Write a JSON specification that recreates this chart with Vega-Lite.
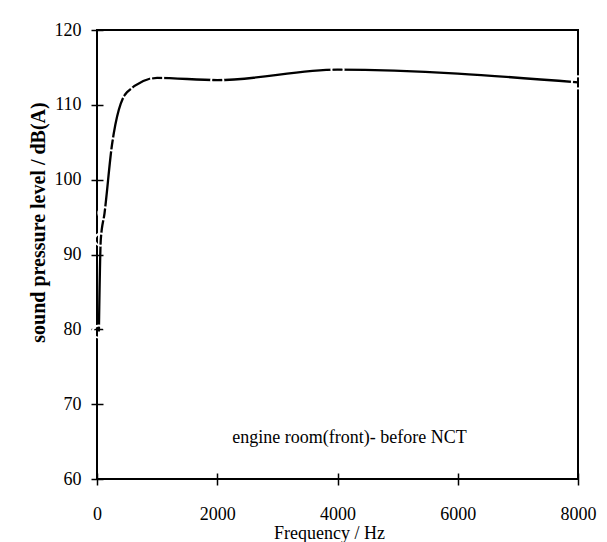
{
  "$schema": "https://vega.github.io/schema/vega-lite/v6.json",
  "width": 481,
  "height": 449,
  "autosize": {"type": "none"},
  "padding": {"left": 97, "top": 30, "right": 29, "bottom": 63},
  "background": "white",
  "config": {
    "font": "Liberation Serif",
    "view": {"stroke": "black", "strokeWidth": 2}
  },
  "data": {
    "values": [
      {"frequency": 31.5, "spl": 79.7},
      {"frequency": 63, "spl": 92.0},
      {"frequency": 125, "spl": 95.5},
      {"frequency": 250, "spl": 104.7},
      {"frequency": 500, "spl": 111.7},
      {"frequency": 1000, "spl": 113.6},
      {"frequency": 2000, "spl": 113.3},
      {"frequency": 4000, "spl": 114.7},
      {"frequency": 8000, "spl": 113.0}
    ]
  },
  "layer": [
    {
      "mark": {"type": "line", "interpolate": "monotone", "color": "black", "strokeWidth": 2.3},
      "encoding": {
        "x": {
          "field": "frequency",
          "type": "quantitative",
          "scale": {"domain": [0, 8000], "nice": false},
          "axis": {
            "values": [0, 2000, 4000, 6000, 8000],
            "domain": false,
            "grid": false,
            "tickSize": 12,
            "offset": -6,
            "tickColor": "black",
            "tickWidth": 1.5,
            "labelFont": "Liberation Serif",
            "labelFontSize": 18,
            "labelColor": "black",
            "labelPadding": 20,
            "labelFlush": false,
            "labelOverlap": false,
            "format": "d",
            "title": "Frequency / Hz",
            "titleFont": "Liberation Serif",
            "titleFontSize": 18,
            "titleFontWeight": "normal",
            "titleColor": "black",
            "titleX": 232,
            "titleY": 60,
            "titleAlign": "center",
            "titleBaseline": "middle"
          }
        },
        "y": {
          "field": "spl",
          "type": "quantitative",
          "scale": {"domain": [60, 120], "nice": false, "zero": false},
          "axis": {
            "values": [60, 70, 80, 90, 100, 110, 120],
            "domain": false,
            "grid": false,
            "tickSize": 12,
            "offset": -6,
            "tickColor": "black",
            "tickWidth": 1.5,
            "labelFont": "Liberation Serif",
            "labelFontSize": 18,
            "labelColor": "black",
            "labelPadding": 10,
            "labelOverlap": false,
            "title": "sound pressure level / dB(A)",
            "titleFont": "Liberation Serif",
            "titleFontSize": 20,
            "titleFontWeight": "bold",
            "titleColor": "black",
            "titleX": -65,
            "titleY": 192,
            "titleAngle": -90,
            "titleAlign": "center",
            "titleBaseline": "middle"
          }
        }
      }
    },
    {
      "mark": {"type": "point", "shape": "circle", "filled": false, "stroke": "white", "strokeWidth": 2, "size": 150, "opacity": 1},
      "encoding": {
        "x": {"field": "frequency", "type": "quantitative"},
        "y": {"field": "spl", "type": "quantitative"}
      }
    },
    {
      "data": {"values": [{"note": "engine room(front)- before NCT"}]},
      "mark": {"type": "text", "font": "Liberation Serif", "fontSize": 18, "fill": "black", "align": "center", "baseline": "middle"},
      "encoding": {
        "x": {"datum": 4200, "type": "quantitative"},
        "y": {"datum": 65.5, "type": "quantitative"},
        "text": {"field": "note", "type": "nominal"}
      }
    }
  ]
}
